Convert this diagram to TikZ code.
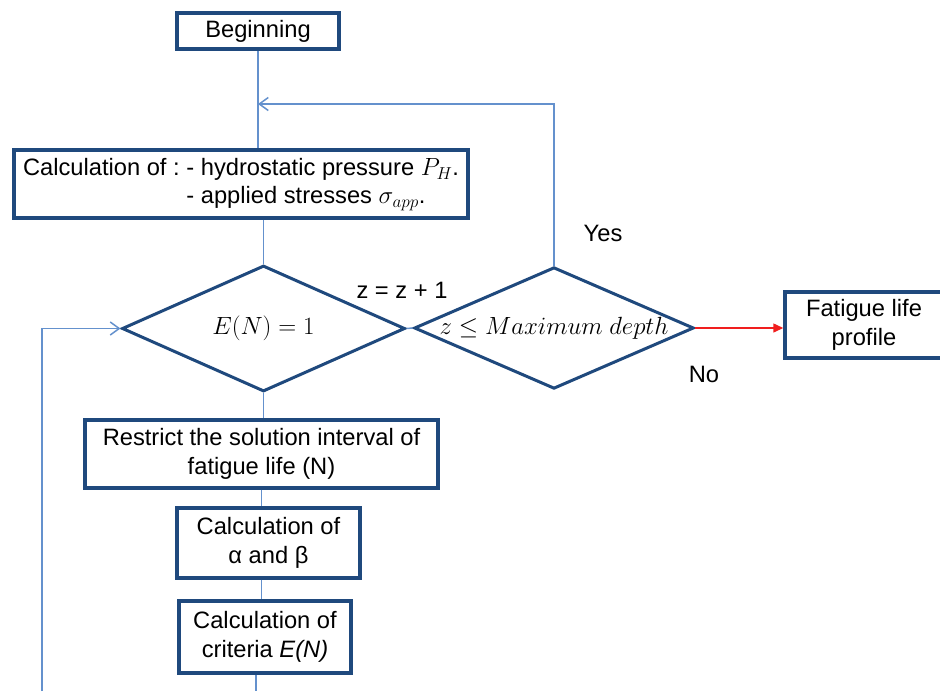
\documentclass[tikz,border=0pt]{standalone}
\usepackage{fontspec}
\setmainfont{Liberation Sans}
\usetikzlibrary{shapes.geometric,arrows.meta}
\definecolor{boxblue}{RGB}{31,73,125}
\definecolor{lineblue}{RGB}{100,145,205}
\definecolor{arrred}{RGB}{240,30,30}
\begin{document}
\begin{tikzpicture}[x=1pt,y=-1pt,
  font=\fontsize{23.7}{29}\selectfont,
  box/.style={draw=boxblue,line width=3.5pt,rectangle,align=center,inner sep=0pt},
  dia/.style={draw=boxblue,line width=3pt,diamond,inner sep=0pt},
  conn/.style={draw=lineblue,line width=1.5pt},
  barb/.style={-{Straight Barb[length=9pt,width=13pt]}},
  lab/.style={inner sep=0pt}]
\useasboundingbox[fill=white] (0,0) rectangle (940,691);

\node[box,minimum width=162pt,minimum height=36pt] (beg) at (258,31) {Beginning};
\node[box,minimum width=454pt,minimum height=68pt] (calc) at (241,184)
  {\begin{tabular}{@{}l@{}l@{}}Calculation of : & \ - hydrostatic pressure $P_H$.\\[-1pt] & \ - applied stresses $\sigma_{app}$.\end{tabular}};
\node[dia,minimum width=283pt,minimum height=126pt,aspect=2.25] (d1) at (263.5,328.5) {$E(N) = 1$};
\node[dia,minimum width=272pt,minimum height=118pt,aspect=2.3] (d2) at (554,328) {$z \leq Maximum\ depth$};
\node[box,minimum width=158pt,minimum height=66pt] (fat) at (864,325) {Fatigue life\\ profile};
\node[box,minimum width=353pt,minimum height=68pt] (restrict) at (261.5,454) {Restrict the solution interval of\\ fatigue life (N)};
\node[box,minimum width=183pt,minimum height=70pt] (alpha) at (268.5,543) {Calculation of\\ α and β};
\node[box,minimum width=172pt,minimum height=72pt] (crit) at (265,637) {Calculation of\\ criteria \textit{E(N)}};

\node[lab] (zinc) at (402,290) {z = z + 1};
\node[lab] (yes) at (603,233) {Yes};
\node[lab] (no) at (704,374) {No};

\coordinate (loopc) at (258,104);
\coordinate (cbot) at (256,691);
\coordinate (lbot) at (42,691);

\draw[conn] (beg.south) -- (beg.south |- calc.north);
\draw[conn,barb] (d2.north) |- (loopc);
\draw[conn] (d1.north |- calc.south) -- (d1.north);
\draw[conn] (d1.east) -- (d2.west);
\draw[draw=arrred,line width=1.5pt,-{Triangle[length=10pt,width=9pt]}] (d2.east) -- (d2.east -| fat.west);
\draw[conn] (d1.south) -- (d1.south |- restrict.north);
\draw[conn] (restrict.south) -- (restrict.south |- alpha.north);
\draw[conn] (restrict.south |- alpha.south) -- (restrict.south |- crit.north);
\draw[conn] (cbot |- crit.south) -- (cbot);
\draw[conn,barb] (lbot) |- (d1.west);
\end{tikzpicture}
\end{document}
